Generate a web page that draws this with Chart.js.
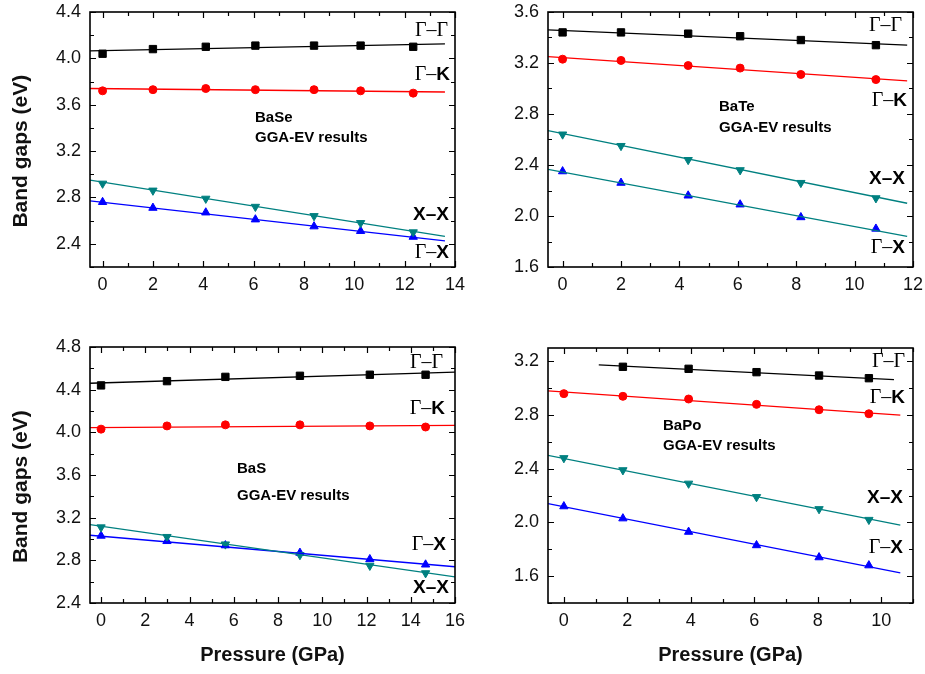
<!DOCTYPE html>
<html>
<head>
<meta charset="utf-8">
<script src="https://cdn.jsdelivr.net/npm/chart.js@4"></script>
<style>
  body { margin: 0; background: #fff; }
  #wrap { position: relative; width: 925px; height: 674px; }
  canvas { position: absolute; }
</style>
</head>
<body>
<div id="wrap">
  <canvas id="baSe" width="465" height="300" style="left:0;top:0"></canvas>
  <canvas id="baTe" width="460" height="300" style="left:465px;top:0"></canvas>
  <canvas id="baS" width="465" height="354" style="left:0;top:320px"></canvas>
  <canvas id="baPo" width="460" height="354" style="left:465px;top:320px"></canvas>
</div>
<script>
// BaSe (pressure in GPa, gaps in eV)
const seP = [0, 2.0, 4.1, 6.07, 8.4, 10.25, 12.34];
const seGG = [4.04, 4.08, 4.10, 4.11, 4.11, 4.11, 4.10];
const seGK = [3.72, 3.73, 3.74, 3.73, 3.73, 3.72, 3.70];
const seXX = [2.92, 2.86, 2.79, 2.72, 2.64, 2.58, 2.50];
const seGX = [2.76, 2.71, 2.67, 2.61, 2.55, 2.51, 2.46];
const seFitP = [-0.5, 13.6];
const seGGFit = [4.065, 4.125];
const seGKFit = [3.74, 3.71];
const seXXFit = [2.95, 2.465];
const seGXFit = [2.77, 2.425];

// BaTe
const teP = [0, 2.0, 4.3, 6.08, 8.16, 10.73];
const teGG = [3.44, 3.44, 3.43, 3.41, 3.38, 3.34];
const teGK = [3.23, 3.22, 3.18, 3.16, 3.11, 3.07];
const teXX = [2.64, 2.55, 2.44, 2.36, 2.26, 2.14];
const teGX = [2.35, 2.26, 2.16, 2.09, 1.99, 1.90];
const teFitP = [-0.5, 11.8];
const teGGFit = [3.46, 3.34];
const teGKFit = [3.25, 3.06];
const teXXFit = [2.67, 2.10];
const teGXFit = [2.365, 1.84];

// BaS
const sP = [0, 2.98, 5.62, 8.99, 12.15, 14.67];
const sGG = [4.44, 4.48, 4.52, 4.53, 4.54, 4.54];
const sGK = [4.03, 4.06, 4.07, 4.07, 4.06, 4.05];
const sXX = [3.11, 3.02, 2.95, 2.85, 2.75, 2.68];
const sGX = [3.03, 2.98, 2.94, 2.87, 2.81, 2.76];
const sFitP = [-0.5, 16];
const sGGFit = [4.46, 4.565];
const sGKFit = [4.045, 4.065];
const sXXFit = [3.135, 2.645];
const sGXFit = [3.035, 2.74];

// BaPo (no Gamma-Gamma value at 0 GPa)
const poP = [0, 1.86, 3.93, 6.07, 8.04, 9.61];
const poGG = [null, 3.16, 3.145, 3.12, 3.095, 3.075];
const poGK = [2.96, 2.94, 2.92, 2.88, 2.84, 2.81];
const poXX = [2.48, 2.39, 2.29, 2.19, 2.10, 2.02];
const poGX = [2.12, 2.03, 1.93, 1.83, 1.74, 1.68];
const poFitP = [-0.5, 10.6];
const poGGFitP = [1.1, 10.4];
const poGGFit = [3.175, 3.065];
const poGKFit = [2.98, 2.80];
const poXXFit = [2.50, 1.98];
const poGXFit = [2.14, 1.625];

const BLACK = "#000000", RED = "#ff0000", TEAL = "#008080", BLUE = "#0000ff";
const SERIF = "20px 'Liberation Serif', 'Times New Roman', serif";
const BOLD = "bold 19px 'Liberation Sans', Arial, sans-serif";

function pts(xs, ys) {
  return xs.map((x, i) => ({ x: x, y: ys[i] })).filter((p) => p.y !== null);
}

function markers(xs, ys, color, style, radius, rotation) {
  return {
    data: pts(xs, ys),
    showLine: false,
    pointStyle: style,
    pointRadius: radius,
    pointRotation: rotation || 0,
    backgroundColor: color,
    borderColor: color,
    borderWidth: 1,
  };
}

function fit(xs, ys, color) {
  return {
    data: pts(xs, ys),
    showLine: true,
    pointRadius: 0,
    borderColor: color,
    borderWidth: 1.3,
  };
}

const gg = [{ t: "Γ–Γ", f: SERIF }];
const gk = [{ t: "Γ–", f: SERIF }, { t: "K", f: BOLD }];
const gx = [{ t: "Γ–", f: SERIF }, { t: "X", f: BOLD }];
const xx = [{ t: "X–X", f: BOLD }];

// frame with inward major/minor ticks on all four sides
const framePlugin = {
  id: "frame",
  afterDatasetsDraw(chart) {
    const ctx = chart.ctx;
    const a = chart.chartArea;
    ctx.save();
    ctx.strokeStyle = "#000";
    ctx.lineWidth = 1.2;
    ["x", "y"].forEach((id) => {
      const s = chart.scales[id];
      const step = s.options.ticks.stepSize / 2;
      const start = Math.ceil((s.min - 1e-9) / step) * step;
      for (let v = start; v <= s.max + 1e-9; v += step) {
        const major = Math.abs(v / (2 * step) - Math.round(v / (2 * step))) < 1e-6;
        const len = major ? 6 : 4;
        const p = Math.round(s.getPixelForValue(v)) + 0.5;
        ctx.beginPath();
        if (id === "x") {
          ctx.moveTo(p, a.bottom); ctx.lineTo(p, a.bottom - len);
          ctx.moveTo(p, a.top); ctx.lineTo(p, a.top + len);
        } else {
          ctx.moveTo(a.left, p); ctx.lineTo(a.left + len, p);
          ctx.moveTo(a.right, p); ctx.lineTo(a.right - len, p);
        }
        ctx.stroke();
      }
    });
    ctx.lineWidth = 1.6;
    ctx.strokeRect(a.left, a.top, a.right - a.left, a.bottom - a.top);
    ctx.restore();
  },
};

// curve labels and compound name
const textPlugin = {
  id: "texts",
  afterDraw(chart, args, opts) {
    const ctx = chart.ctx;
    ctx.save();
    ctx.fillStyle = "#000";
    ctx.textBaseline = "middle";
    opts.labels.forEach((l) => {
      let w = 0;
      l.seg.forEach((s) => { ctx.font = s.f; w += ctx.measureText(s.t).width; });
      let x = l.x - w;
      l.seg.forEach((s) => {
        ctx.font = s.f;
        ctx.fillText(s.t, x, l.y);
        x += ctx.measureText(s.t).width;
      });
    });
    ctx.font = "bold 15px 'Liberation Sans', Arial, sans-serif";
    ctx.fillText(opts.name[0], opts.name[1], opts.name[2]);
    ctx.fillText("GGA-EV results", opts.name[1], opts.name[3]);
    ctx.restore();
  },
};

function panel(id, p) {
  const tickFont = { family: "'Liberation Sans', Arial, sans-serif", size: 18 };
  new Chart(document.getElementById(id), {
    type: "scatter",
    data: { datasets: p.datasets },
    options: {
      responsive: false,
      animation: false,
      devicePixelRatio: 1,
      layout: { padding: { top: p.padTop, right: p.padRight, left: 0, bottom: 0 } },
      plugins: {
        legend: { display: false },
        tooltip: { enabled: false },
        texts: { labels: p.labels, name: p.name },
      },
      scales: {
        x: {
          min: p.xMin,
          max: p.xMax,
          grid: { display: false, drawTicks: false },
          border: { display: false },
          ticks: {
            stepSize: 2,
            includeBounds: false,
            padding: 7,
            color: "#111",
            font: tickFont,
            maxRotation: 0,
            callback: (v) => v.toFixed(0),
          },
          title: {
            display: p.xTitle,
            text: "Pressure (GPa)",
            color: "#111",
            font: { family: "'Liberation Sans', Arial, sans-serif", size: 20, weight: "bold" },
            padding: { top: 0, bottom: 7 },
          },
          afterFit: (s) => {
            s.height = p.xHeight;
            s.paddingLeft = 0;
            s.paddingRight = 0;
          },
        },
        y: {
          min: p.yMin,
          max: p.yMax,
          grid: { display: false, drawTicks: false },
          border: { display: false },
          ticks: {
            stepSize: 0.4,
            includeBounds: false,
            padding: 9,
            color: "#111",
            font: tickFont,
            callback: (v) => v.toFixed(1),
          },
          title: {
            display: p.yTitle,
            text: "Band gaps (eV)    ",
            color: "#111",
            font: { family: "'Liberation Sans', Arial, sans-serif", size: 21, weight: "bold" },
            padding: { top: 9, bottom: 0 },
          },
          afterFit: (s) => {
            s.width = p.yWidth;
            s.paddingTop = 0;
            s.paddingBottom = 0;
          },
        },
      },
    },
    plugins: [framePlugin, textPlugin],
  });
}

panel("baSe", {
  xMin: -0.5, xMax: 14, yMin: 2.2, yMax: 4.4,
  padTop: 12, padRight: 10, yWidth: 90, xHeight: 33, xTitle: false, yTitle: true,
  datasets: [
    fit(seFitP, seGGFit, BLACK), fit(seFitP, seGKFit, RED),
    fit(seFitP, seXXFit, TEAL), fit(seFitP, seGXFit, BLUE),
    markers(seP, seGG, BLACK, "rect", 5.2),
    markers(seP, seGK, RED, "circle", 4),
    markers(seP, seXX, TEAL, "triangle", 4.8, 180),
    markers(seP, seGX, BLUE, "triangle", 4.8),
  ],
  labels: [
    { seg: gg, x: 448, y: 31 }, { seg: gk, x: 450, y: 75 },
    { seg: xx, x: 449, y: 215 }, { seg: gx, x: 449, y: 253 },
  ],
  name: ["BaSe", 255, 118, 138],
});

panel("baTe", {
  xMin: -0.5, xMax: 12, yMin: 1.6, yMax: 3.6,
  padTop: 12, padRight: 12, yWidth: 83, xHeight: 33, xTitle: false, yTitle: false,
  datasets: [
    fit(teFitP, teGGFit, BLACK), fit(teFitP, teGKFit, RED),
    fit(teFitP, teXXFit, TEAL), fit(teFitP, teGXFit, TEAL),
    markers(teP, teGG, BLACK, "rect", 5.2),
    markers(teP, teGK, RED, "circle", 4),
    markers(teP, teXX, TEAL, "triangle", 4.8, 180),
    markers(teP, teGX, BLUE, "triangle", 4.8),
  ],
  labels: [
    { seg: gg, x: 437, y: 26 }, { seg: gk, x: 442, y: 101 },
    { seg: xx, x: 440, y: 179 }, { seg: gx, x: 440, y: 248 },
  ],
  name: ["BaTe", 254, 107, 128],
});

panel("baS", {
  xMin: -0.5, xMax: 16, yMin: 2.4, yMax: 4.8,
  padTop: 27, padRight: 10, yWidth: 90, xHeight: 71, xTitle: true, yTitle: true,
  datasets: [
    fit(sFitP, sGGFit, BLACK), fit(sFitP, sGKFit, RED),
    fit(sFitP, sXXFit, TEAL), fit(sFitP, sGXFit, BLUE),
    markers(sP, sGG, BLACK, "rect", 5.2),
    markers(sP, sGK, RED, "circle", 4),
    markers(sP, sXX, TEAL, "triangle", 4.8, 180),
    markers(sP, sGX, BLUE, "triangle", 4.8),
  ],
  labels: [
    { seg: gg, x: 443, y: 43 }, { seg: gk, x: 445, y: 89 },
    { seg: gx, x: 446, y: 225 }, { seg: xx, x: 449, y: 268 },
  ],
  name: ["BaS", 237, 149, 176],
});

panel("baPo", {
  xMin: -0.5, xMax: 11, yMin: 1.4, yMax: 3.3,
  padTop: 28, padRight: 12, yWidth: 83, xHeight: 71, xTitle: true, yTitle: false,
  datasets: [
    fit(poGGFitP, poGGFit, BLACK), fit(poFitP, poGKFit, RED),
    fit(poFitP, poXXFit, TEAL), fit(poFitP, poGXFit, BLUE),
    markers(poP, poGG, BLACK, "rect", 5.2),
    markers(poP, poGK, RED, "circle", 4),
    markers(poP, poXX, TEAL, "triangle", 4.8, 180),
    markers(poP, poGX, BLUE, "triangle", 4.8),
  ],
  labels: [
    { seg: gg, x: 440, y: 42 }, { seg: gk, x: 440, y: 78 },
    { seg: xx, x: 438, y: 178 }, { seg: gx, x: 438, y: 228 },
  ],
  name: ["BaPo", 198, 106, 126],
});
</script>
</body>
</html>
